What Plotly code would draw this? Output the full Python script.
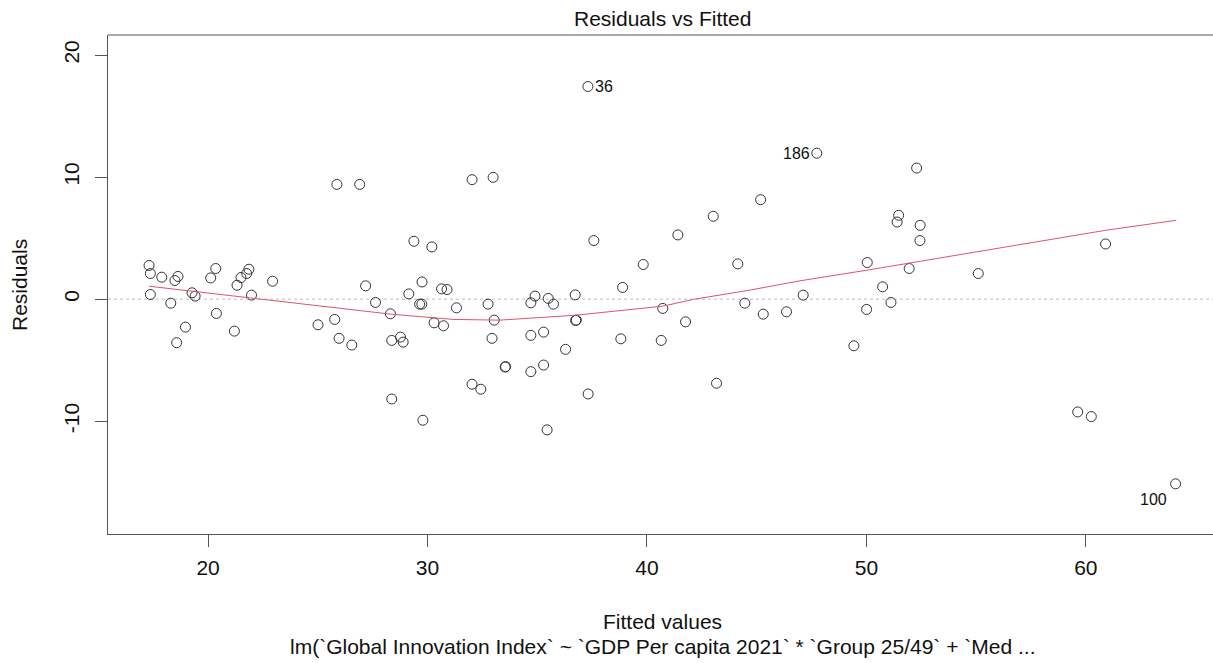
import plotly.graph_objects as go

# Fitted values (x) and residuals (y)
fitted = [
    17.31, 17.37, 17.37, 17.89, 18.30, 18.49, 18.63, 18.57, 18.97, 19.27,
    19.41, 20.12, 20.35, 20.38, 21.20, 21.32, 21.50, 21.76, 21.86, 21.98,
    22.94, 25.01, 25.77, 25.87, 25.97, 26.55, 26.91, 27.18, 27.63, 28.31,
    28.37, 28.37, 28.77, 28.89, 29.15, 29.38, 29.64, 29.74, 29.75, 29.79,
    30.20, 30.30, 30.64, 30.73, 30.89, 31.32, 32.03, 32.03, 32.43, 32.76,
    32.94, 32.99, 33.04, 33.54, 33.56, 34.71, 34.71, 34.71, 34.90, 35.29,
    35.29, 35.45, 35.50, 35.74, 36.29, 36.73, 36.75, 36.78, 37.31, 37.32,
    37.58, 38.81, 38.89, 39.83, 40.65, 40.72, 41.41, 41.76, 43.02, 43.17,
    44.14, 44.46, 45.18, 45.30, 46.36, 47.12, 47.74, 49.43, 50.01, 50.04,
    50.74, 51.12, 51.40, 51.47, 51.95, 52.29, 52.44, 52.45, 55.10, 59.63,
    60.25, 60.90, 64.09,
]
residuals = [
    2.76, 2.10, 0.38, 1.80, -0.33, 1.53, 1.86, -3.57, -2.29, 0.52,
    0.25, 1.74, 2.51, -1.17, -2.62, 1.14, 1.77, 2.10, 2.45, 0.33,
    1.47, -2.10, -1.66, 9.40, -3.21, -3.76, 9.40, 1.09, -0.27, -1.20,
    -3.38, -8.18, -3.11, -3.52, 0.43, 4.74, -0.41, -0.41, 1.41, -9.92,
    4.28, -1.94, 0.84, -2.18, 0.79, -0.71, 9.79, -6.97, -7.38, -0.41,
    -3.21, 9.98, -1.72, -5.56, -5.53, -0.30, -2.97, -5.94, 0.25, -2.70,
    -5.40, -10.71, 0.06, -0.41, -4.11, 0.35, -1.74, -1.72, 17.42, -7.77,
    4.80, -3.25, 0.96, 2.84, -3.38, -0.76, 5.26, -1.86, 6.79, -6.89,
    2.89, -0.33, 8.15, -1.23, -1.04, 0.33, 11.96, -3.82, -0.84, 3.00,
    1.01, -0.27, 6.32, 6.87, 2.51, 10.74, 4.80, 6.05, 2.10, -9.24,
    -9.62, 4.52, -15.13,
]

# Smoother (red line)
smooth_x = [17.31, 24.18, 28.33, 31.17, 33.30, 36.79, 37.85, 40.74, 42.11,
            44.69, 46.97, 50.01, 60.90, 64.12]
smooth_y = [1.06, -0.35, -1.23, -1.66, -1.72, -1.31, -1.12, -0.57, -0.02,
            0.74, 1.50, 2.37, 5.64, 6.46]

# Labelled observations
label_ids = ["36", "186", "100"]
label_x = [37.31, 47.74, 64.09]
label_y = [17.42, 11.96, -15.13]

x_ticks = [20, 30, 40, 50, 60]
x_tick_text = ["20", "30", "40", "50", "60"]
y_ticks = [-10, 0, 10, 20]
y_tick_text = ["-10", "0", "10", "20"]

FONT = "Liberation Sans, Arial, sans-serif"
AXIS_COL = "#555555"
TXT = "#111111"

# The plot box runs past the right edge of the 1213px window,
# as in the reference, so the figure is wider and clipped by the window.
FIG_W = 1300
L_MARGIN = 108
PLOT_W = FIG_W - L_MARGIN
X_RANGE = [15.44, 69.76]
Y_RANGE = [-19.24, 21.64]

fig = go.Figure()

fig.add_trace(go.Scatter(
    x=fitted, y=residuals, mode="markers",
    marker=dict(symbol="circle-open", size=10, color="#333333",
                line=dict(width=1, color="#333333")),
    hoverinfo="x+y", showlegend=False,
))

fig.add_trace(go.Scatter(
    x=smooth_x, y=smooth_y, mode="lines",
    line=dict(color="#DF536B", width=1),
    hoverinfo="skip", showlegend=False,
))

# dotted zero line
fig.add_shape(type="line", xref="paper", yref="y", x0=0, x1=1, y0=0, y1=0,
              line=dict(color="#BBBBBB", width=1, dash="dot"), layer="below")
# top border of the box
fig.add_shape(type="line", xref="paper", yref="paper", x0=0, x1=1, y0=1, y1=1,
              line=dict(color=AXIS_COL, width=1))

annotations = []
for lab, lx, ly in zip(label_ids, label_x, label_y):
    if lab == "36":
        annotations.append(dict(x=lx, y=ly, text=lab, showarrow=False,
                                xanchor="left", yanchor="middle", xshift=5,
                                font=dict(size=16, family=FONT, color=TXT)))
    elif lab == "186":
        annotations.append(dict(x=lx, y=ly, text=lab, showarrow=False,
                                xanchor="right", yanchor="middle", xshift=-5,
                                font=dict(size=16, family=FONT, color=TXT)))
    else:
        annotations.append(dict(x=lx, y=ly, text=lab, showarrow=False,
                                xanchor="right", yanchor="middle", xshift=-7,
                                yshift=-16,
                                font=dict(size=16, family=FONT, color=TXT)))

CX = (662 - L_MARGIN) / PLOT_W
annotations += [
    dict(text="Residuals vs Fitted", xref="paper", yref="paper",
         x=CX, y=1 + (35 - 18) / 499, xanchor="center",
         yanchor="middle", showarrow=False,
         font=dict(size=21, family=FONT, color=TXT)),
    dict(text="Fitted values", xref="paper", yref="paper",
         x=CX, y=-(621 - 534) / 499, xanchor="center",
         yanchor="middle", showarrow=False,
         font=dict(size=21, family=FONT, color=TXT)),
    dict(text="lm(`Global Innovation Index` ~ `GDP Per capita 2021` * `Group 25/49` + `Med ...",
         xref="paper", yref="paper",
         x=CX, y=-(646 - 534) / 499, xanchor="center",
         yanchor="middle", showarrow=False,
         font=dict(size=21, family=FONT, color=TXT)),
    dict(text="Residuals", xref="paper", yref="paper",
         x=-(L_MARGIN - 19) / PLOT_W, y=(534 - 285) / 499, xanchor="center",
         yanchor="middle", showarrow=False, textangle=-90,
         font=dict(size=21, family=FONT, color=TXT)),
]

fig.update_layout(
    width=FIG_W, height=663,
    margin=dict(l=L_MARGIN, r=0, t=35, b=129, pad=0),
    paper_bgcolor="white", plot_bgcolor="white",
    font=dict(family=FONT, size=21, color=TXT),
    annotations=annotations,
    xaxis=dict(range=X_RANGE, tickvals=x_ticks, ticktext=x_tick_text,
               ticks="outside", ticklen=12,
               tickcolor=AXIS_COL, tickwidth=1, showgrid=False, zeroline=False,
               showline=True, linecolor=AXIS_COL, linewidth=1, mirror=False,
               ticklabelstandoff=3,
               tickfont=dict(size=21, family=FONT, color=TXT)),
    yaxis=dict(range=Y_RANGE, tickvals=y_ticks, ticktext=y_tick_text,
               ticks="outside", ticklen=12,
               tickcolor=AXIS_COL, tickwidth=1, showgrid=False, zeroline=False,
               showline=True, linecolor=AXIS_COL, linewidth=1, mirror=False,
               tickangle=-90, ticklabelstandoff=8,
               tickfont=dict(size=21, family=FONT, color=TXT)),
)

fig.write_html(
    "out.html",
    post_script="document.documentElement.style.overflow='hidden';"
                "document.body.style.overflow='hidden';"
                "document.body.style.margin='0';",
)
